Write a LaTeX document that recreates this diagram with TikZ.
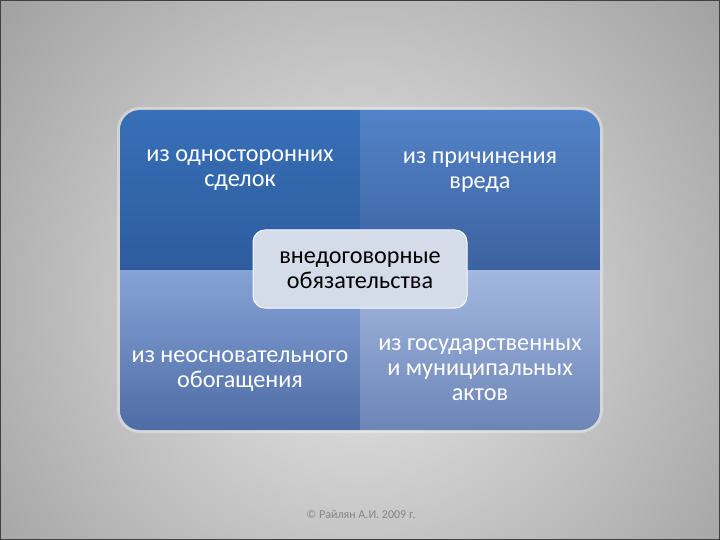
\documentclass[tikz,border=0pt]{standalone}
\usepackage{fontspec}
\setmainfont{Carlito}
\definecolor{bgin}{HTML}{EAEAEA}
\definecolor{bgout}{HTML}{5E5E5E}
\definecolor{tlT}{HTML}{3770B8}
\definecolor{tlB}{HTML}{2E5C9E}
\definecolor{trT}{HTML}{5283C8}
\definecolor{trB}{HTML}{3D62A0}
\definecolor{blT}{HTML}{85A3D5}
\definecolor{blB}{HTML}{4E6DA6}
\definecolor{brT}{HTML}{A3B8E0}
\definecolor{brB}{HTML}{6C85B7}
\definecolor{centerfill}{HTML}{D5DCE9}
\definecolor{copyc}{HTML}{858585}
\tikzset{
  qtext/.style={text=white, font=\fontsize{24.2}{25}\selectfont, align=center},
  ctext/.style={text=black, font=\fontsize{24.2}{25}\selectfont, align=center},
  centerbox/.style={fill=centerfill, draw=white!85!centerfill, line width=1pt, rounded corners=12},
}
\begin{document}
\begin{tikzpicture}[x=1pt,y=-1pt]
\useasboundingbox (0,0) rectangle (720,540);
\begin{scope}
  \clip (0,0) rectangle (720,540);
  \shade[inner color=bgin, outer color=bgout] (360,300) circle (900);
  \draw[black!75, line width=1.5pt] (0,0) rectangle (720,540);
\end{scope}
% soft light border around matrix
\fill[white, opacity=0.35, rounded corners=23] (117,107) rectangle (603,433);
\begin{scope}
  \clip[rounded corners=20] (120,110) rectangle (600,430);
  \shade[top color=tlT, bottom color=tlB] (120,110) rectangle (360,270);
  \shade[top color=trT, bottom color=trB] (360,110) rectangle (600,270);
  \shade[top color=blT, bottom color=blB] (120,270) rectangle (360,430);
  \shade[top color=brT, bottom color=brB] (360,270) rectangle (600,430);
\end{scope}
\node[qtext] (tl) at (240,170) {из односторонних\\сделок};
\node[qtext] (tr) at (480,172) {из причинения\\вреда};
\node[qtext] (bl) at (240,371) {из неосновательного\\обогащения};
\node[qtext] (br) at (480,370) {из государственных\\и муниципальных\\актов};
\fill[centerbox] (253,230) rectangle (467,308);
\node[ctext] (c) at (360,270) {внедоговорные\\обязательства};
\node[text=copyc, font=\fontsize{12}{14}\selectfont] (copy) at (361,514) {© Райлян А.И. 2009 г.};
\end{tikzpicture}
\end{document}
